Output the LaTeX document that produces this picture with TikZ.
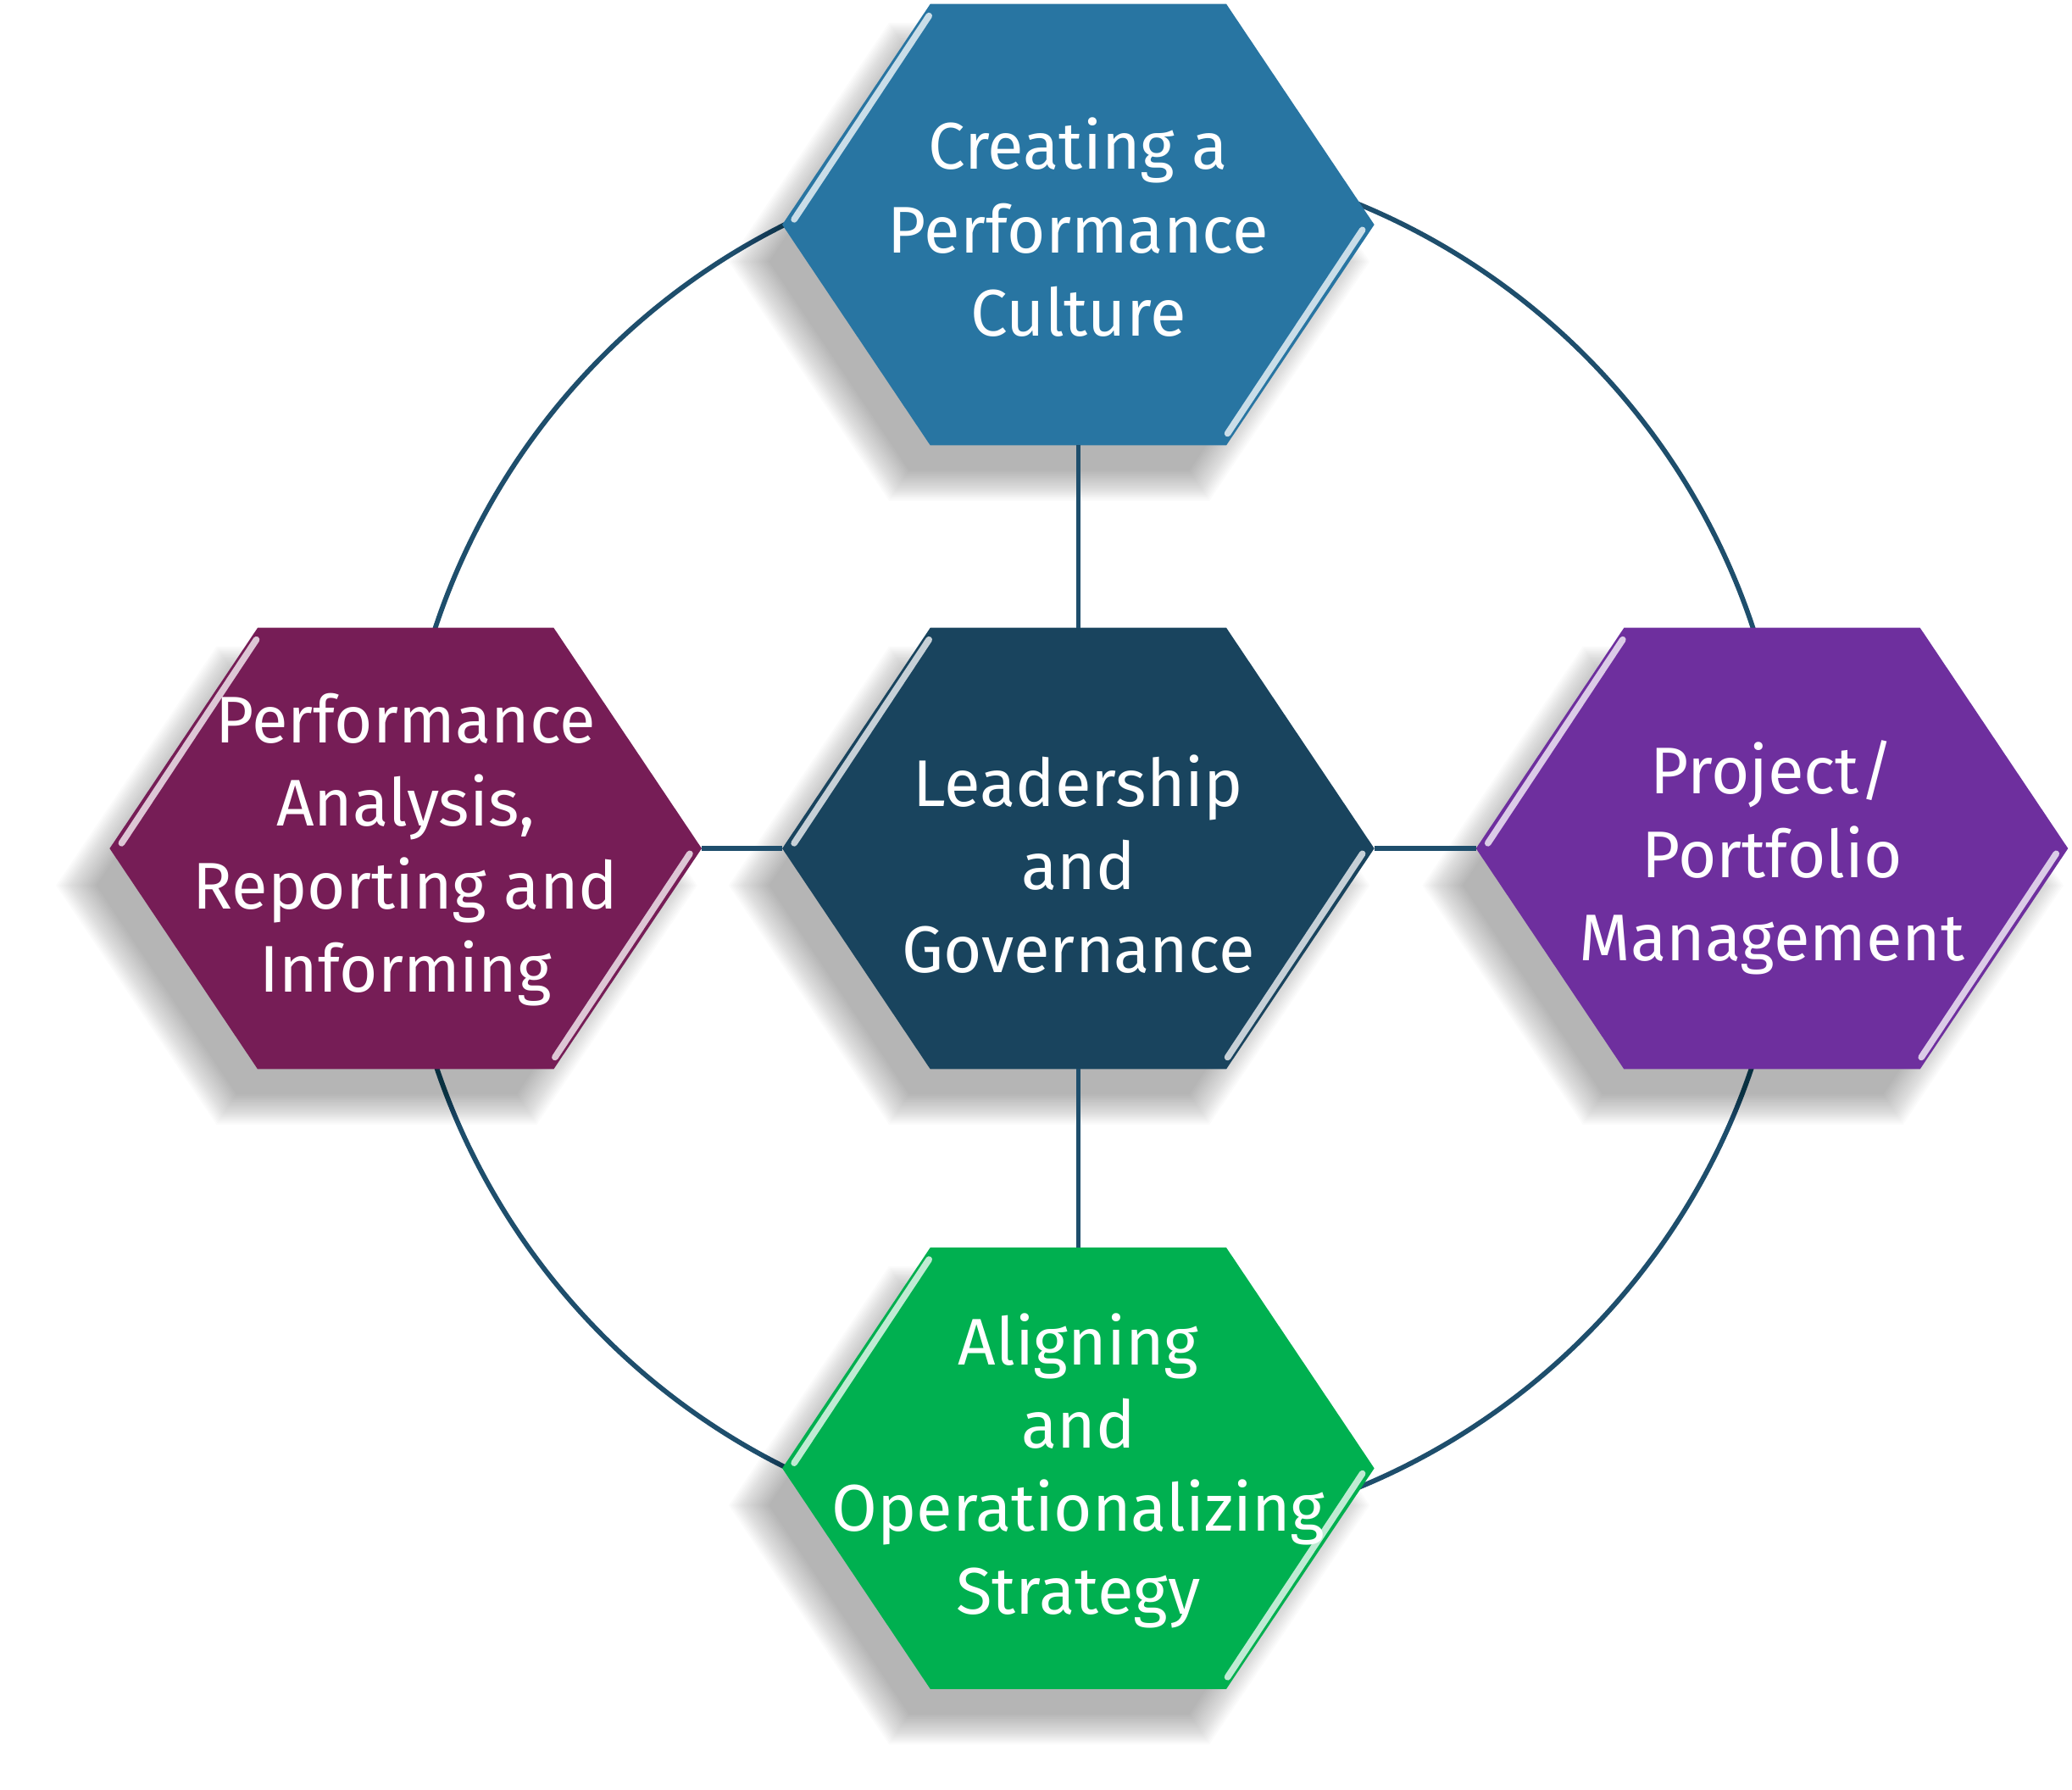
\documentclass[tikz,border=0pt]{standalone}
\usepackage{fontspec}
\setmainfont{Fira Sans}
\usetikzlibrary{calc}
\definecolor{cTop}{RGB}{40,117,162}
\definecolor{cCtr}{RGB}{25,68,94}
\definecolor{cLeft}{RGB}{118,29,86}
\definecolor{cRight}{RGB}{110,47,158}
\definecolor{cBot}{RGB}{0,176,80}
\definecolor{lineblue}{RGB}{30,78,108}
\tikzset{
  hexlabel/.style={text=white, align=center, font=\fontsize{14.2}{17.9}\selectfont, inner sep=0pt},
  link/.style={draw=lineblue, line width=1.05pt},
}
\newcommand\hexagon[3]{%
  \begin{scope}[shift={(#2)}]
    \foreach \k in {1,...,22}{%
      \fill[black, opacity=0.016, shift={(-22,28)}, scale={0.94+\k*0.0065}]
        (-224,0) -- (-112,-167) -- (112,-167) -- (224,0) -- (112,167) -- (-112,167) -- cycle;
    }
    \fill[#3] (-224,0) -- (-112,-167) -- (112,-167) -- (224,0) -- (112,167) -- (-112,167) -- cycle;
    \draw[#3!25!white, line width=1.4pt, line cap=round] (-215,-4) -- (-113,-158);
    \draw[#3!25!white, line width=1.4pt, line cap=round] (215,4) -- (113,158);
    \coordinate (#1-L) at (-224,0);
    \coordinate (#1-R) at (224,0);
    \coordinate (#1-T) at (0,-167);
    \coordinate (#1-B) at (0,167);
  \end{scope}
}
\begin{document}
\begin{tikzpicture}[x=0.01cm, y=-0.01cm]
  \useasboundingbox (0,0) rectangle (1568,1354);
  \coordinate (ringc) at (828,640);
  \draw[link] (ringc) circle[radius=525];
  \hexagon{top}{816,170}{cTop}
  \hexagon{left}{307,642}{cLeft}
  \hexagon{right}{1341,642}{cRight}
  \hexagon{bot}{816,1111}{cBot}
  \hexagon{ctr}{816,642}{cCtr}
  \draw[link] (top-B) -- (ctr-T);
  \draw[link] (ctr-B) -- (bot-T);
  \draw[link] (left-R) -- (ctr-L);
  \draw[link] (ctr-R) -- (right-L);
  \node[hexlabel] (ttop) at (816,172) {Creating a\\Performance\\Culture};
  \node[hexlabel] (tctr) at (816,654) {Leadership\\and\\Governance};
  \node[hexlabel] (tleft) at (307,643) {Performance\\Analysis,\\Reporting and\\Informing};
  \node[hexlabel] (tright) at (1341,649) {Project/\\Portfolio\\Management};
  \node[hexlabel] (tbot) at (816,1113) {Aligning\\and\\Operationalizing\\Strategy};
\end{tikzpicture}
\end{document}
